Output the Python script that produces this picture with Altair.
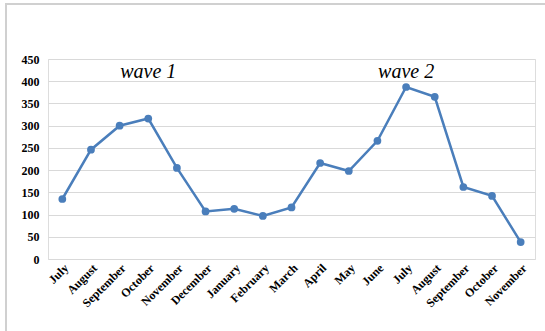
import altair as alt
import pandas as pd

months = ["July", "August", "September", "October", "November", "December",
          "January", "February", "March", "April", "May", "June",
          "July", "August", "September", "October", "November"]
cases = [135, 246, 300, 316, 205, 107, 113, 97, 116, 216, 198, 266,
         387, 365, 162, 142, 38]
wave_labels = ["wave 1", "wave 2"]
wave_pos = [3, 12]
wave_y = [420, 420]

df = pd.DataFrame({"idx": list(range(len(months))), "month": months, "cases": cases})
wdf = pd.DataFrame({"idx": wave_pos, "label": wave_labels, "cases": wave_y})

label_expr = "[" + ",".join(f"'{m}'" for m in months) + "][datum.value]"

x_enc = alt.X("idx:O", scale=alt.Scale(type="point", padding=0.5),
              axis=alt.Axis(title=None, labelExpr=label_expr, labelAngle=-45,
                            labelAlign="right", labelBaseline="top",
                            labelFont="Liberation Serif", labelFontWeight="bold",
                            labelFontSize=12, labelColor="#000", ticks=False,
                            domain=False, grid=False, labelPadding=3))
y_enc = alt.Y("cases:Q", scale=alt.Scale(domain=[0, 450]),
              axis=alt.Axis(title=None, values=list(range(0, 451, 50)),
                            labelOverlap=False,
                            labelFont="Liberation Serif", labelFontWeight="bold",
                            labelFontSize=12, labelColor="#000", ticks=False,
                            domain=False, gridColor="#d9d9d9", gridWidth=1,
                            labelPadding=9))

border = alt.Chart(pd.DataFrame({"a": [0]})).mark_rect(
    fill=None, stroke="#d0d0d0", strokeWidth=2).encode(
    x=alt.value(-42), x2=alt.value(560), y=alt.value(-55), y2=alt.value(340))

line = alt.Chart(df).mark_line(color="#4a7ebb", strokeWidth=2.5,
                               point=alt.OverlayMarkDef(filled=True, size=60, color="#4a7ebb")).encode(
    x=x_enc, y=y_enc)

text = alt.Chart(wdf).mark_text(font="Liberation Serif", fontStyle="italic",
                                fontSize=20, color="#000").encode(
    x=x_enc, y=y_enc, text="label:N")

chart = alt.layer(border, line, text).properties(
    width=487, height=200,
    autosize=alt.AutoSizeParams(type="none"),
    padding={"left": 48, "top": 59, "right": 10, "bottom": 72},
).configure_view(stroke=None).configure(background="white")

chart.save("out.html", embed_options={"renderer": "svg", "actions": False})
